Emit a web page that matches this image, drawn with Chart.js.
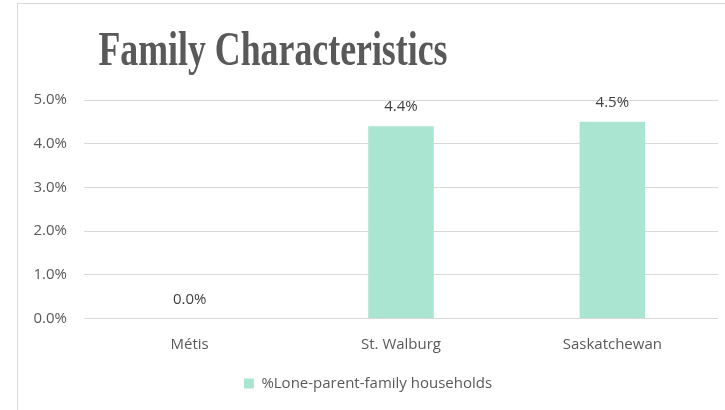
<!DOCTYPE html>
<html>
<head>
<meta charset="utf-8">
<script src="https://cdn.jsdelivr.net/npm/chart.js@4"></script>
<style>
    body { margin: 0; overflow: hidden; background: #fff; }
    #box { position: absolute; left: 17px; top: 3px; width: 727px; height: 420px; border: 1px solid #d9d9d9; }
</style>
</head>
<body>
<div id="box"><canvas id="my-chart" width="727" height="407"></canvas></div>
<script>
const categories = ['Métis', 'St. Walburg', 'Saskatchewan'];
const loneParent = [0.0, 4.4, 4.5];
const seriesName = '%Lone-parent-family households';
const chartTitle = 'Family Characteristics';

const textColor = '#595959';
const barColor = '#a9e5d1';
const gridColor = '#d9d9d9';
const bodyFont = '"Open Sans", Lato, sans-serif';

// Title drawn by hand: the original is squeezed and sits left of centre
const titlePlugin = {
    id: 'bigTitle',
    afterDraw(chart) {
        const ctx = chart.ctx;
        ctx.save();
        ctx.font = 'bold 48px "Liberation Serif", serif';
        ctx.fillStyle = textColor;
        ctx.textAlign = 'center';
        ctx.textBaseline = 'alphabetic';
        ctx.fillText(chartTitle, 255, 61, 349);
        ctx.restore();
    }
};

// Value labels above each bar
const valueLabels = {
    id: 'valueLabels',
    afterDatasetsDraw(chart) {
        const ctx = chart.ctx;
        const meta = chart.getDatasetMeta(0);
        ctx.save();
        ctx.font = '15px ' + bodyFont;
        ctx.fillStyle = '#404040';
        ctx.textAlign = 'center';
        ctx.textBaseline = 'middle';
        meta.data.forEach((bar, i) => {
            ctx.fillText(loneParent[i].toFixed(1) + '%', bar.x, bar.y - 19);
        });
        ctx.restore();
    }
};

const ctx = document.getElementById('my-chart').getContext('2d');
new Chart(ctx, {
    type: 'bar',
    data: {
        labels: categories,
        datasets: [{
            label: seriesName,
            data: loneParent,
            backgroundColor: barColor,
            borderWidth: 0,
            barPercentage: 0.31,
            categoryPercentage: 1
        }]
    },
    options: {
        responsive: false,
        animation: false,
        layout: {
            padding: { top: 96, right: 27, bottom: 10, left: 0 }
        },
        scales: {
            x: {
                grid: { display: false },
                border: { display: false },
                ticks: {
                    color: textColor,
                    font: { family: bodyFont, size: 15 },
                    padding: 9,
                    maxRotation: 0
                },
                afterFit: scale => { scale.height = 47.5; }
            },
            y: {
                min: 0,
                max: 5,
                grid: { color: gridColor, drawTicks: false },
                border: { display: false },
                ticks: {
                    stepSize: 1,
                    color: textColor,
                    font: { family: bodyFont, size: 15 },
                    padding: 17,
                    callback: v => v.toFixed(1) + '%'
                },
                afterFit: scale => { scale.width = 66; }
            }
        },
        plugins: {
            title: { display: false },
            tooltip: { enabled: false },
            legend: {
                display: true,
                position: 'bottom',
                labels: {
                    color: textColor,
                    font: { family: bodyFont, size: 15 },
                    boxWidth: 10,
                    boxHeight: 10,
                    padding: 10
                }
            }
        }
    },
    plugins: [titlePlugin, valueLabels]
});
</script>
</body>
</html>
